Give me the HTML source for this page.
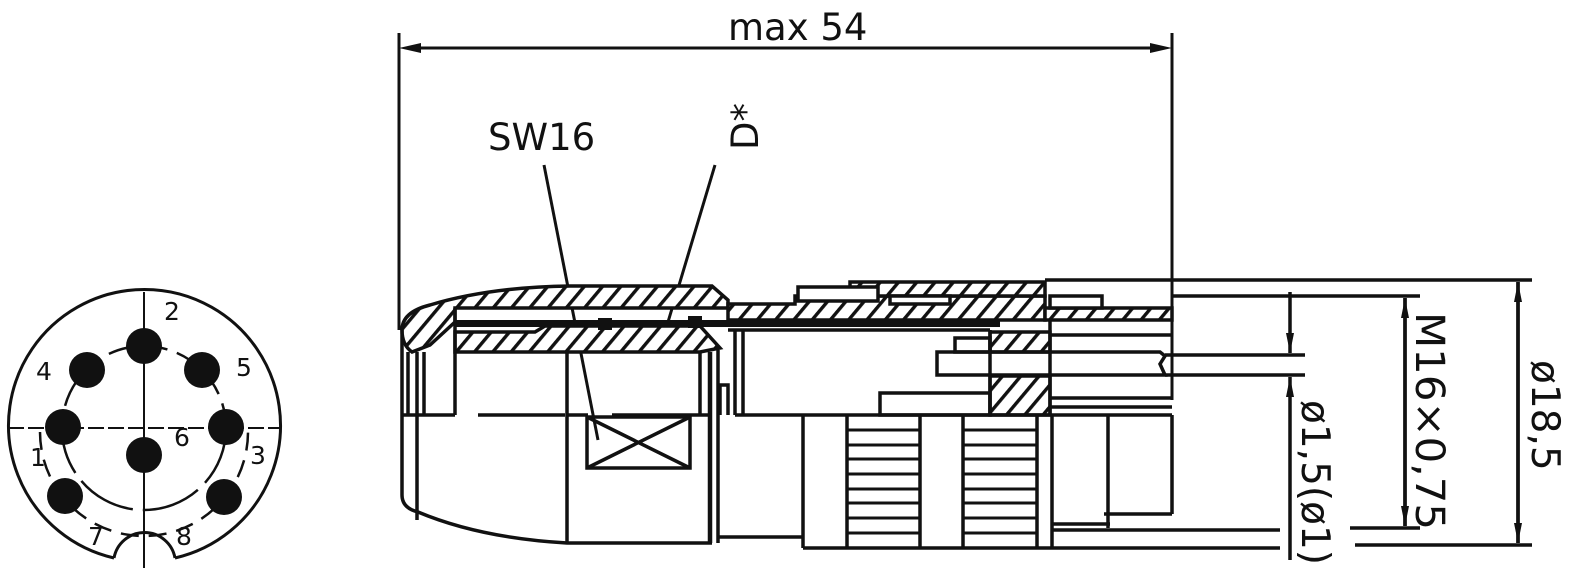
<!DOCTYPE html>
<html><head><meta charset="utf-8"><style>
html,body{margin:0;padding:0;background:#fff}
svg{display:block}
text{font-family:"DejaVu Sans","Liberation Sans",sans-serif;fill:#111}
</style></head><body>
<svg width="1584" height="572" viewBox="0 0 1584 572" xmlns="http://www.w3.org/2000/svg">
<defs>
<pattern id="h" width="14" height="14" patternUnits="userSpaceOnUse" patternTransform="rotate(40)">
<rect width="14" height="14" fill="#fff"/><rect x="0" y="0" width="3.4" height="14" fill="#111"/>
</pattern>
<marker id="a" viewBox="0 0 20 8" refX="20" refY="4" markerWidth="20" markerHeight="8" markerUnits="userSpaceOnUse" orient="auto"><path d="M0,0 L20,4 L0,8 Z" fill="#111"/></marker>
</defs>
<g stroke="#111" fill="none" stroke-width="3">
<path d="M 114,558 A 136 136 0 1 1 175,558"/>
<path d="M 114,558 A 31 31 0 0 1 175,558"/>
<line x1="144" y1="292" x2="144" y2="568" stroke-width="2"/>
<line x1="8" y1="428" x2="280" y2="428" stroke-width="2" stroke-dasharray="16,4"/>
<circle cx="144" cy="428" r="82" stroke-width="2.5" stroke-dasharray="60,10"/>
<path d="M 40,432 A 104 104 0 0 0 248,432" stroke-width="2.5" stroke-dasharray="18,10"/>
</g>
<g fill="#111">
<circle cx="144" cy="346" r="18"/><circle cx="87" cy="370" r="18"/><circle cx="202" cy="370" r="18"/>
<circle cx="63" cy="427" r="18"/><circle cx="226" cy="427" r="18"/><circle cx="144" cy="455" r="18"/>
<circle cx="65" cy="496" r="18"/><circle cx="224" cy="497" r="18"/>
</g>
<g font-size="25">
<text x="164" y="320">2</text><text x="36" y="380">4</text><text x="236" y="376">5</text>
<text x="30" y="466">1</text><text x="250" y="464">3</text><text x="174" y="446">6</text>
<text x="88" y="545">7</text><text x="176" y="545">8</text>
</g>

<g stroke="#111" stroke-width="3" fill="none">
<line x1="399" y1="33" x2="399" y2="330"/>
<line x1="1172" y1="33" x2="1172" y2="400"/>
<line x1="420" y1="48" x2="1152" y2="48"/>
</g>
<path d="M399,48 l22,-5 v10z M1172,48 l-22,-5 v10z" fill="#111"/>
<text x="728" y="40" font-size="37">max 54</text>
<text x="488" y="150" font-size="37">SW16</text>
<text transform="translate(758,150) rotate(-90)" font-size="37">D*</text>
<g stroke="#111" stroke-width="3">
<line x1="544" y1="165" x2="598" y2="440"/>
<line x1="715" y1="165" x2="668" y2="322"/>
</g>

<g fill="url(#h)" stroke="#111" stroke-width="3.5">
<path d="M402,330 Q402,312 430,305 Q490,287 570,286 L712,286 L728,300 L728,308 L455,308 L455,322 L430,345 L412,352 Q402,345 402,330 Z"/>
<path d="M455,332 L535,332 L545,326 L700,326 L720,348 L700,352 L455,352 Z"/>
<path d="M728,304 L795,304 L795,296 L1045,296 L1045,320 L728,320 Z"/>
<path d="M850,282 L1045,282 L1045,296 L850,296 Z"/>
<path d="M1045,308 L1172,308 L1172,320 L1045,320 Z"/>
<path d="M990,332 L1050,332 L1050,352 L990,352 Z"/>
<path d="M990,376 L1050,376 L1050,415 L990,415 Z"/>
</g>
<g fill="#fff" stroke="#111" stroke-width="3.5">
<rect x="798" y="287" width="80" height="14"/>
<rect x="890" y="296" width="60" height="8"/>
<rect x="1050" y="296" width="52" height="12"/>
</g>
<rect x="455" y="320" width="545" height="7" fill="#111"/>
<rect x="598" y="318" width="14" height="12" fill="#111"/>
<rect x="688" y="316" width="14" height="12" fill="#111"/>

<g stroke="#111" stroke-width="3.5" fill="none">
<path d="M402,330 L402,495 Q402,508 418,512 Q480,538 567,543 L712,543"/>
<line x1="417" y1="352" x2="417" y2="520"/>
<line x1="408" y1="352" x2="408" y2="415"/>
<line x1="424" y1="352" x2="424" y2="415"/>
<line x1="455" y1="308" x2="455" y2="415"/>
<line x1="402" y1="415" x2="455" y2="415"/>
<line x1="478" y1="415" x2="565" y2="415"/>
<line x1="567" y1="352" x2="567" y2="543"/>
<line x1="612" y1="415" x2="712" y2="415"/>
<line x1="567" y1="415" x2="588" y2="415"/>
<rect x="587" y="417" width="103" height="51"/>
<line x1="587" y1="417" x2="690" y2="468"/><line x1="587" y1="468" x2="690" y2="417"/>
<line x1="700" y1="352" x2="700" y2="415"/>
<line x1="710" y1="352" x2="710" y2="543" stroke-width="4.5"/>
<line x1="718" y1="350" x2="718" y2="543"/>
<line x1="718" y1="537" x2="803" y2="537"/>
<line x1="735" y1="330" x2="735" y2="415"/>
<line x1="743" y1="330" x2="743" y2="415"/>
<path d="M720,415 L720,385 L728,385 L728,415"/>
<line x1="735" y1="415" x2="1172" y2="415"/>
<line x1="728" y1="330" x2="990" y2="330"/>
<line x1="803" y1="415" x2="803" y2="548"/>
<line x1="847" y1="415" x2="847" y2="548"/>
<line x1="920" y1="415" x2="920" y2="548"/>
<line x1="963" y1="415" x2="963" y2="548"/>
<line x1="1037" y1="415" x2="1037" y2="548"/>
<line x1="1052" y1="415" x2="1052" y2="548"/>
<line x1="803" y1="548" x2="1280" y2="548"/>
<line x1="1052" y1="530" x2="1280" y2="530"/>
<line x1="1052" y1="524" x2="1110" y2="524"/>
<line x1="1108" y1="415" x2="1108" y2="528"/>
<line x1="1104" y1="514" x2="1172" y2="514"/>
<line x1="1172" y1="415" x2="1172" y2="514"/>
<path d="M937,352 L1160,352 L1165,356 L1160,364 L1165,375 L937,375 Z"/>
<line x1="1165" y1="355" x2="1305" y2="355"/>
<line x1="1165" y1="375" x2="1305" y2="375"/>
<line x1="990" y1="330" x2="990" y2="415"/>
<line x1="1050" y1="320" x2="1050" y2="415"/>
<rect x="880" y="393" width="110" height="22"/>
<rect x="955" y="338" width="35" height="14"/>
<line x1="1050" y1="398" x2="1172" y2="398"/>
<line x1="1050" y1="407" x2="1172" y2="407"/>
<line x1="1050" y1="335" x2="1172" y2="335"/>
<line x1="1045" y1="280" x2="1532" y2="280"/>
<line x1="1172" y1="296" x2="1420" y2="296"/>
<line x1="1350" y1="528" x2="1420" y2="528"/>
<line x1="1355" y1="545" x2="1532" y2="545"/>
<line x1="1518" y1="282" x2="1518" y2="543" marker-end="url(#a)"/>
<line x1="1518" y1="543" x2="1518" y2="282" marker-end="url(#a)"/>
<line x1="1405" y1="298" x2="1405" y2="526" marker-end="url(#a)"/>
<line x1="1405" y1="526" x2="1405" y2="298" marker-end="url(#a)"/>
<line x1="1290" y1="292" x2="1290" y2="353" marker-end="url(#a)"/>
<line x1="1290" y1="560" x2="1290" y2="377" marker-end="url(#a)"/>
</g>
<g stroke="#111" stroke-width="3">
<line x1="847" y1="430" x2="920" y2="430"/><line x1="847" y1="445" x2="920" y2="445"/><line x1="847" y1="459" x2="920" y2="459"/><line x1="847" y1="474" x2="920" y2="474"/><line x1="847" y1="489" x2="920" y2="489"/><line x1="847" y1="503" x2="920" y2="503"/><line x1="847" y1="518" x2="920" y2="518"/><line x1="847" y1="533" x2="920" y2="533"/>
<line x1="963" y1="430" x2="1037" y2="430"/><line x1="963" y1="445" x2="1037" y2="445"/><line x1="963" y1="459" x2="1037" y2="459"/><line x1="963" y1="474" x2="1037" y2="474"/><line x1="963" y1="489" x2="1037" y2="489"/><line x1="963" y1="503" x2="1037" y2="503"/><line x1="963" y1="518" x2="1037" y2="518"/><line x1="963" y1="533" x2="1037" y2="533"/>
</g>
<text transform="translate(1532,360) rotate(90)" font-size="39">ø18,5</text>
<text transform="translate(1416,312) rotate(90)" font-size="40" textLength="218" lengthAdjust="spacingAndGlyphs">M16×0,75</text>
<text transform="translate(1302,400) rotate(90)" font-size="39">ø1,5(ø1)</text>
</svg>
</body></html>
